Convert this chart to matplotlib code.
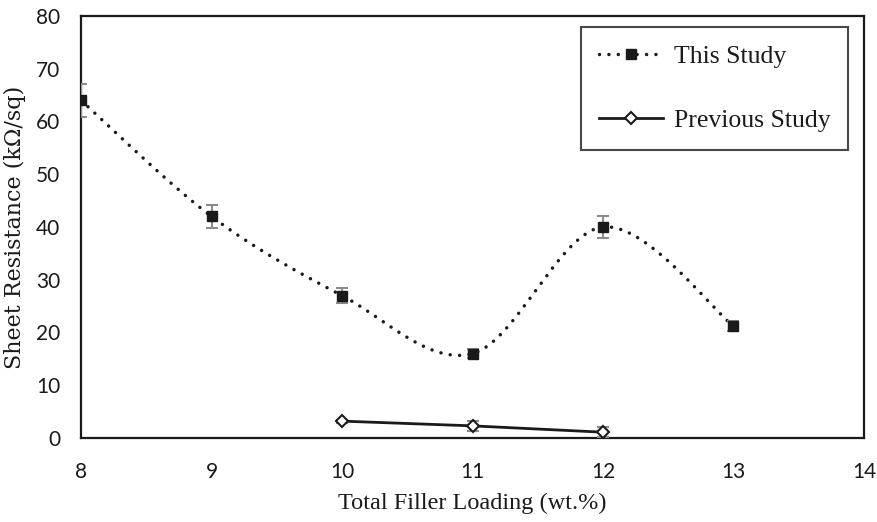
import numpy as np
import matplotlib
matplotlib.use("Agg")
import matplotlib.pyplot as plt
from matplotlib.lines import Line2D

# ---- data ----
this_x = [8, 9, 10, 11, 12, 13]
this_y = [64, 42, 27, 16, 40, 21.2]
this_err = [3.2, 2.1, 1.4, 0.8, 2.0, 0.9]

prev_x = [10, 11, 12]
prev_y = [3.2, 2.3, 1.1]
prev_err = [0.3, 1.0, 0.9]

x_ticks = [8, 9, 10, 11, 12, 13, 14]
y_ticks = [0, 10, 20, 30, 40, 50, 60, 70, 80]

xlabel = "Total Filler Loading (wt.%)"
ylabel = "Sheet Resistance (k\u03a9/sq)"
labels = ["This Study", "Previous Study"]


def smooth_curve(xs, ys, n=40):
    """Excel-like smoothed line: cubic Bezier segments with Catmull-Rom controls."""
    P = np.column_stack([xs, ys]).astype(float)
    out = []
    for i in range(len(P) - 1):
        p0 = P[i - 1] if i > 0 else P[i]
        p1 = P[i]
        p2 = P[i + 1]
        p3 = P[i + 2] if i + 2 < len(P) else P[i + 1]
        c1 = p1 + (p2 - p0) / 6.0
        c2 = p2 - (p3 - p1) / 6.0
        t = np.linspace(0, 1, n)[:, None]
        seg = ((1 - t) ** 3) * p1 + 3 * ((1 - t) ** 2) * t * c1 + 3 * (1 - t) * t ** 2 * c2 + t ** 3 * p2
        if i > 0:
            seg = seg[1:]
        out.append(seg)
    out = np.vstack(out)
    return out[:, 0], out[:, 1]


fig = plt.figure(figsize=(8.78, 5.22), dpi=100)
ax = fig.add_axes([81 / 878, (522 - 438) / 522, (864 - 81) / 878, (438 - 16) / 522])

serif = ["Liberation Serif", "DejaVu Serif"]
sans = ["Lato", "DejaVu Sans"]
ink = "#1a1a1a"

dot_style = dict(linestyle=(0, (0.01, 2.7)), dash_capstyle="round", linewidth=2.5)

# This Study smoothed dotted line
sx, sy = smooth_curve(this_x, this_y)
ax.plot(sx, sy, zorder=2, color=ink, **dot_style)
ax.errorbar(this_x, this_y, yerr=this_err, fmt="none", ecolor="#8c8c8c",
            elinewidth=1.5, capsize=4, capthick=1.5, zorder=3)
ax.plot(this_x, this_y, linestyle="none", marker="s", markersize=6.8,
        color=ink, zorder=4)

# Previous Study
ax.errorbar(prev_x, prev_y, yerr=prev_err, fmt="none", ecolor="#8c8c8c",
            elinewidth=1.5, capsize=4, capthick=1.5, zorder=3)
ax.plot(prev_x, prev_y, color=ink, linewidth=2.0, marker="D",
        markersize=6.5, markerfacecolor="white", markeredgecolor=ink,
        markeredgewidth=1.5, zorder=4)

ax.set_xlim(8, 14)
ax.set_ylim(0, 80)
ax.set_xticks(x_ticks)
ax.set_yticks(y_ticks)
ax.tick_params(length=0, labelsize=15, colors=ink)
ax.tick_params(axis="x", pad=17)
ax.tick_params(axis="y", pad=15)
for lab in ax.get_xticklabels() + ax.get_yticklabels():
    lab.set_family(sans)

for s in ax.spines.values():
    s.set_linewidth(1.6)
    s.set_color(ink)

ax.set_xlabel(xlabel, fontsize=17.5, family=serif, color=ink, labelpad=8)
ax.set_ylabel(ylabel, fontsize=16, family=["DejaVu Serif"], color=ink,
              va="center", ha="center")
ax.yaxis.set_label_coords((15 - 81) / 783, 0.5)

h1 = Line2D([], [], marker="s", markersize=7, color=ink, **dot_style)
h2 = Line2D([], [], color=ink, linewidth=2.0, marker="D", markersize=6,
            markerfacecolor="white", markeredgecolor=ink, markeredgewidth=1.5)
leg = ax.legend([h1, h2], labels, loc="upper right", bbox_to_anchor=(0.98, 0.974),
                prop={"family": serif, "size": 18.5}, frameon=True, fancybox=False,
                edgecolor=ink, handlelength=2.5, handletextpad=0.4,
                labelspacing=1.6, borderpad=0.7, borderaxespad=0)
leg.get_frame().set_linewidth(1.5)
for t in leg.get_texts():
    t.set_color(ink)

fig.savefig("out.png", dpi=100)
